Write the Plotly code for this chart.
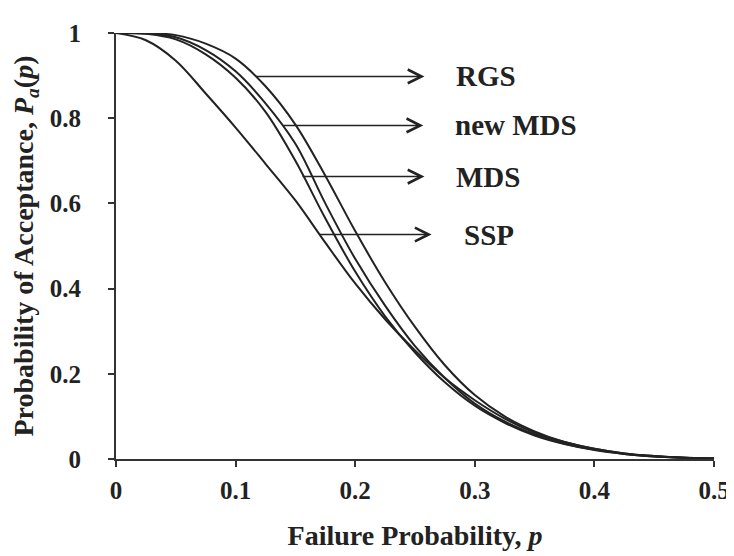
import plotly.graph_objects as go

p_vals = [0, 0.025, 0.05, 0.075, 0.1, 0.125, 0.15, 0.175, 0.2, 0.225, 0.25,
          0.275, 0.3, 0.325, 0.35, 0.375, 0.4, 0.425, 0.45, 0.475, 0.5]
ssp = [1.000, 0.983, 0.935, 0.858, 0.778, 0.693, 0.607, 0.508, 0.412, 0.328, 0.255,
       0.190, 0.138, 0.095, 0.062, 0.040, 0.024, 0.013, 0.007, 0.003, 0.001]
mds = [1.000, 0.998, 0.985, 0.950, 0.895, 0.815, 0.700, 0.565, 0.440, 0.335, 0.250,
       0.180, 0.125, 0.085, 0.055, 0.035, 0.021, 0.012, 0.006, 0.003, 0.001]
new_mds = [1.000, 0.999, 0.990, 0.960, 0.910, 0.835, 0.740, 0.600, 0.470, 0.360, 0.265,
           0.190, 0.130, 0.088, 0.058, 0.036, 0.022, 0.012, 0.006, 0.003, 0.001]
rgs = [1.000, 1.000, 0.995, 0.975, 0.940, 0.875, 0.785, 0.665, 0.535, 0.415, 0.310,
       0.220, 0.150, 0.100, 0.065, 0.040, 0.024, 0.013, 0.007, 0.003, 0.001]

labels = ["RGS", "new MDS", "MDS", "SSP"]
arrow_tail_p = [0.117, 0.140, 0.156, 0.170]
arrow_y = [0.898, 0.783, 0.663, 0.527]
label_p = [0.283, 0.282, 0.283, 0.289]

x_ticks = [0, 0.1, 0.2, 0.3, 0.4, 0.5]
y_ticks = [0, 0.2, 0.4, 0.6, 0.8, 1]

FONT = "Liberation Serif"
INK = "#222222"
fig = go.Figure()
for ys in [ssp, mds, new_mds, rgs]:
    fig.add_trace(go.Scatter(x=p_vals, y=ys, mode="lines",
                             line=dict(color=INK, width=2, shape="spline"),
                             showlegend=False, hoverinfo="skip"))

for lab, tp, ay, lp in zip(labels, arrow_tail_p, arrow_y, label_p):
    fig.add_annotation(x=tp, y=ay, ax=lp, ay=ay, xref="x", yref="y", axref="x", ayref="y",
                       text="<b>%s</b>" % lab, showarrow=True, arrowside="start",
                       arrowhead=5, arrowsize=1.8, startarrowhead=5, startarrowsize=1.8,
                       arrowwidth=1.5, arrowcolor=INK,
                       startstandoff=30, xanchor="left", yanchor="middle",
                       font=dict(family=FONT, size=29, color=INK))

fig.update_layout(
    width=734, height=556, paper_bgcolor="white", plot_bgcolor="white",
    margin=dict(l=108, r=18, t=18, b=105),
    font=dict(family=FONT, size=25, color=INK),
    xaxis=dict(range=[0, 0.5], tickvals=x_ticks, ticktext=["<b>%g</b>" % v for v in x_ticks],
               showgrid=False, zeroline=False, showline=True, linecolor="#333", linewidth=2,
               ticks="outside", ticklen=6, tickwidth=2, tickcolor="#333", ticklabelstandoff=2,
               tickfont=dict(size=25),
               title=dict(text="<b>Failure Probability, <i>p</i></b>", font=dict(size=28), standoff=22)),
    yaxis=dict(range=[0, 1], tickvals=y_ticks, ticktext=["<b>%g</b>" % v for v in y_ticks],
               showgrid=False, zeroline=False, showline=True, linecolor="#333", linewidth=2,
               ticks="outside", ticklen=6, tickwidth=2, tickcolor="#333", ticklabelstandoff=22,
               tickfont=dict(size=25),
               title=dict(text="<b>Probability of Acceptance, <i>P<sub>a</sub></i>(<i>p</i>)</b>",
                          font=dict(size=28), standoff=10)),
)
fig.write_html("out.html")
